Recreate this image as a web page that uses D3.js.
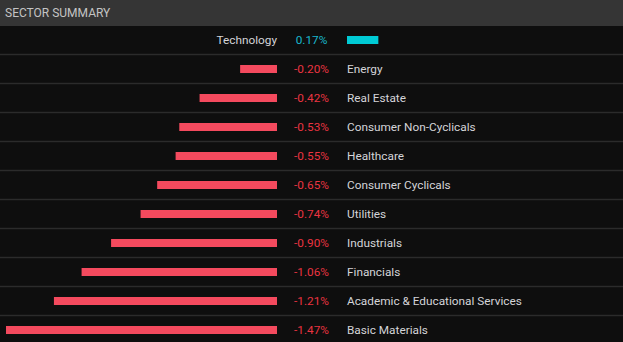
<!DOCTYPE html>
<html><head><meta charset="utf-8">
<script src="https://cdn.jsdelivr.net/npm/d3@7"></script>
<style>
html,body{margin:0;padding:0;background:#0e0e0e;}
svg{display:block;}
</style></head>
<body>
<script>
const title = "SECTOR SUMMARY";
const sectors = ["Technology","Energy","Real Estate","Consumer Non-Cyclicals","Healthcare","Consumer Cyclicals","Utilities","Industrials","Financials","Academic & Educational Services","Basic Materials"];
const changes = [0.17,-0.20,-0.42,-0.53,-0.55,-0.65,-0.74,-0.90,-1.06,-1.21,-1.47];

const W = 623, H = 342, headerH = 26, rowH = 29;
const font = "Roboto, 'Open Sans', sans-serif";
const svg = d3.select("body").append("svg").attr("width", W).attr("height", H);
svg.append("rect").attr("width", W).attr("height", H).attr("fill", "#0e0e0e");
svg.append("rect").attr("width", W).attr("height", headerH).attr("fill", "#353535");
svg.append("text").attr("x", 5).attr("y", 16.5).text(title)
  .attr("fill", "#c4c4c4").attr("font-family", font).attr("font-size", 12);

const y = d3.scaleBand().domain(sectors).range([headerH, headerH + rowH * sectors.length]);
const negX = d3.scaleLinear().domain([0, 1.47]).range([277, 6]);
const posX = d3.scaleLinear().domain([0, 1.47]).range([347, 347 + 271]);
const valX = 311.5, barH = 8;

const g = svg.append("g");
const rows = g.selectAll("g.row").data(sectors.map((s, i) => ({s, v: changes[i]}))).join("g");
rows.append("line")
  .attr("x1", 0).attr("x2", W)
  .attr("y1", d => y(d.s) + rowH - 0.5).attr("y2", d => y(d.s) + rowH - 0.5)
  .attr("stroke", "#2b2b2b").attr("stroke-width", 1.5);
rows.append("rect")
  .attr("x", d => d.v < 0 ? negX(-d.v) : posX(0))
  .attr("width", d => d.v < 0 ? negX(0) - negX(-d.v) : posX(d.v) - posX(0))
  .attr("y", d => y(d.s) + rowH / 2 - 0.5 - barH / 2)
  .attr("height", barH)
  .attr("fill", d => d.v < 0 ? "#f44a5e" : "#00cbd5");
rows.append("text")
  .attr("x", valX).attr("y", d => y(d.s) + rowH / 2 + 3.7)
  .attr("text-anchor", "middle")
  .attr("fill", d => d.v < 0 ? "#ea3441" : "#18b7cc")
  .attr("font-family", font).attr("font-size", 11.8)
  .text(d => d.v.toFixed(2) + "%");
rows.append("text")
  .attr("x", d => d.v < 0 ? 347 : 277)
  .attr("text-anchor", d => d.v < 0 ? "start" : "end")
  .attr("y", d => y(d.s) + rowH / 2 + 3.7)
  .attr("fill", "#d4d4d8")
  .attr("font-family", font).attr("font-size", 11.8)
  .text(d => d.s);
</script>
</body></html>
